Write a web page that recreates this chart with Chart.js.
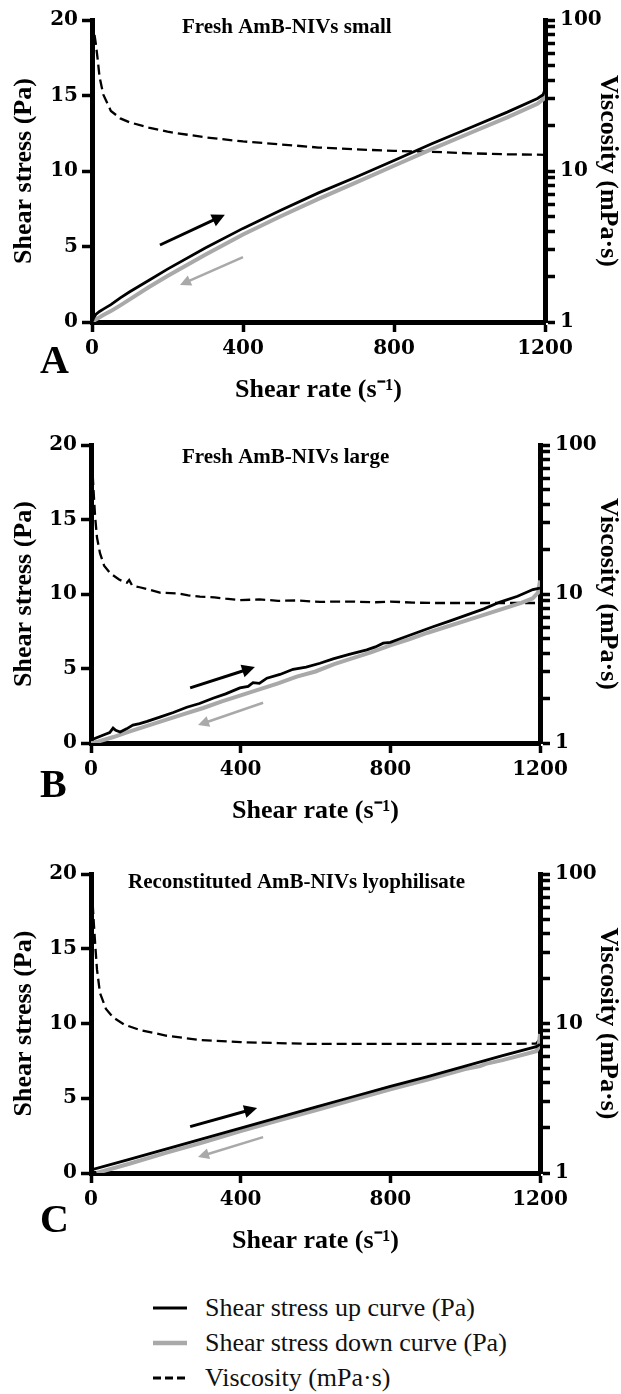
<!DOCTYPE html>
<html>
<head>
<meta charset="utf-8">
<script src="https://cdn.jsdelivr.net/npm/chart.js@4.4.1/dist/chart.umd.min.js"></script>
<style>
  body { margin: 0; background: #fff; width: 621px; height: 1394px; position: relative; overflow: hidden; }
  canvas.panel { position: absolute; left: 0; }
  #legend { position: absolute; left: 153px; top: 1290px; font-family: "Liberation Serif", serif; font-size: 26px; color: #111; }
  #legend .row { display: flex; align-items: center; height: 35px; }
  #legend svg { width: 34px; height: 10px; margin-right: 18px; }
</style>
</head>
<body>
<canvas id="chartA" class="panel" width="621" height="420" style="top:0px"></canvas>
<canvas id="chartB" class="panel" width="621" height="421" style="top:420px"></canvas>
<canvas id="chartC" class="panel" width="621" height="421" style="top:850px"></canvas>
<div id="legend"></div>
<script>
// ---- data ----
const STRESS_TICKS = [0, 5, 10, 15, 20];
const RATE_TICKS = [0, 400, 800, 1200];
const VISC_TICKS = [1, 2, 3, 4, 5, 6, 7, 8, 9, 10, 20, 30, 40, 50, 60, 70, 80, 90, 100];
const VISC_LABELS = [1, 10, 100];

// A: fresh, small
const RATE_A = [0, 5, 10, 20, 30, 50, 75, 100, 150, 200, 300, 400, 500, 600, 700, 800, 900, 1000, 1100, 1180, 1195, 1200];
const UP_A = [0, 0.3, 0.5, 0.7, 0.85, 1.15, 1.6, 2.0, 2.75, 3.5, 4.9, 6.2, 7.4, 8.55, 9.6, 10.7, 11.8, 12.85, 13.9, 14.8, 15.05, 15.4];
const DOWN_A = [0, 0.08, 0.17, 0.32, 0.46, 0.72, 1.1, 1.5, 2.3, 3.05, 4.45, 5.8, 7.0, 8.15, 9.25, 10.35, 11.45, 12.5, 13.55, 14.45, 14.75, 15.2];
const VISC_RATE_A = [2, 5, 10, 15, 20, 30, 50, 75, 100, 150, 200, 300, 400, 500, 600, 700, 800, 900, 1000, 1100, 1200];
const VISC_A = [100, 85, 70, 55, 42, 32, 25, 22.3, 21, 19.4, 18.2, 16.7, 15.7, 15.0, 14.3, 13.9, 13.6, 13.4, 13.1, 12.9, 12.8];

// B: fresh, large
const RATE_B_UP = [0, 10, 20, 30, 40, 50, 59, 66, 78, 95, 112, 130, 150, 184, 220, 256, 290, 326, 360, 398, 420, 433, 450, 470, 505, 540, 575, 612, 647, 690, 737, 760, 781, 800, 826, 870, 914, 960, 1005, 1050, 1093, 1140, 1181, 1200];
const UP_B = [0.2, 0.3, 0.4, 0.5, 0.6, 0.7, 1.0, 0.85, 0.74, 0.95, 1.2, 1.3, 1.45, 1.74, 2.05, 2.4, 2.65, 3.0, 3.3, 3.7, 3.8, 4.05, 4.0, 4.35, 4.6, 4.95, 5.1, 5.35, 5.65, 5.95, 6.25, 6.45, 6.7, 6.75, 7.0, 7.4, 7.8, 8.2, 8.6, 9.0, 9.46, 9.85, 10.3, 10.4];
const RATE_B_DOWN = [0, 20, 60, 100, 150, 200, 250, 300, 350, 400, 450, 500, 550, 600, 650, 700, 750, 800, 850, 900, 950, 1000, 1050, 1100, 1150, 1180, 1195, 1200];
const DOWN_B = [0, 0.1, 0.4, 0.75, 1.15, 1.55, 1.95, 2.35, 2.8, 3.2, 3.6, 4.0, 4.45, 4.8, 5.3, 5.7, 6.1, 6.55, 6.95, 7.4, 7.8, 8.2, 8.6, 9.0, 9.4, 9.7, 10.1, 10.9];
const VISC_RATE_B = [1, 3, 5, 8, 11, 16, 24, 35, 51, 75, 88, 96, 102, 110, 130, 150, 184, 230, 260, 291, 330, 360, 398, 450, 500, 550, 612, 660, 700, 760, 800, 860, 914, 1000, 1100, 1200];
const VISC_B = [100, 78, 60, 44, 33, 24, 18.8, 15.5, 13.8, 12.5, 12.1, 11.9, 12.4, 11.4, 11.1, 10.8, 10.2, 10.1, 9.8, 9.6, 9.5, 9.3, 9.1, 9.2, 9.0, 9.05, 8.85, 8.9, 8.9, 8.8, 8.9, 8.75, 8.7, 8.7, 8.7, 8.7];

// C: reconstituted lyophilisate
const RATE_C_UP = [0, 100, 200, 300, 400, 500, 600, 700, 800, 900, 1000, 1100, 1190, 1200];
const UP_C = [0.2, 0.9, 1.6, 2.3, 3.0, 3.7, 4.4, 5.1, 5.8, 6.45, 7.15, 7.85, 8.45, 8.6];
const RATE_C_DOWN = [15, 100, 200, 300, 400, 500, 600, 700, 800, 900, 1000, 1040, 1055, 1100, 1190, 1196, 1200];
const DOWN_C = [0, 0.6, 1.35, 2.05, 2.8, 3.5, 4.2, 4.9, 5.6, 6.25, 6.95, 7.15, 7.3, 7.55, 8.15, 8.4, 9.3];
const VISC_RATE_C = [1, 3, 5, 8, 11, 16, 24, 40, 59, 90, 131, 200, 291, 400, 500, 585, 700, 800, 900, 1000, 1100, 1190, 1200];
const VISC_C = [100, 75, 60, 45, 34.5, 23, 16, 12.5, 11.0, 9.8, 9.05, 8.3, 7.76, 7.5, 7.4, 7.3, 7.3, 7.3, 7.3, 7.3, 7.3, 7.35, 7.9];

// direction arrows, in data units: [fromRate, fromStress, toRate, toStress]
const ARROW_UP_A = [180, 5.1, 352, 7.1];
const ARROW_DOWN_A = [400, 4.3, 233, 2.45];
const ARROW_UP_B = [265, 3.7, 438, 5.1];
const ARROW_DOWN_B = [460, 2.7, 286, 1.2];
const ARROW_UP_C = [265, 3.1, 444, 4.35];
const ARROW_DOWN_C = [460, 2.4, 286, 1.07];

const BLACK = '#000';
const GREY = '#a9a9a9';
const AXIS_FONT = { family: 'Liberation Serif', size: 26, weight: 'bold', lineHeight: 1 };
const TICK_FONT = { family: 'DejaVu Serif', size: 20, weight: 'bold' };

const pts = (xs, ys) => xs.map((x, i) => ({ x: x, y: ys[i] }));

function drawArrow(ctx, x0, y0, x1, y1, color, width, head) {
  const ang = Math.atan2(y1 - y0, x1 - x0);
  ctx.strokeStyle = color;
  ctx.fillStyle = color;
  ctx.lineWidth = width;
  ctx.beginPath();
  ctx.moveTo(x0, y0);
  ctx.lineTo(x1 - Math.cos(ang) * head * 0.8, y1 - Math.sin(ang) * head * 0.8);
  ctx.stroke();
  ctx.beginPath();
  ctx.moveTo(x1, y1);
  ctx.lineTo(x1 - head * Math.cos(ang) + head * 0.5 * Math.sin(ang), y1 - head * Math.sin(ang) - head * 0.5 * Math.cos(ang));
  ctx.lineTo(x1 - head * Math.cos(ang) - head * 0.5 * Math.sin(ang), y1 - head * Math.sin(ang) + head * 0.5 * Math.cos(ang));
  ctx.closePath();
  ctx.fill();
}

const annotate = {
  id: 'annotate',
  afterDatasetsDraw(chart, args, opts) {
    const { ctx, scales: { x, y } } = chart;
    ctx.save();
    const a = opts.up, d = opts.down;
    drawArrow(ctx, x.getPixelForValue(a[0]), y.getPixelForValue(a[1]), x.getPixelForValue(a[2]), y.getPixelForValue(a[3]), BLACK, 3, 13);
    drawArrow(ctx, x.getPixelForValue(d[0]), y.getPixelForValue(d[1]), x.getPixelForValue(d[2]), y.getPixelForValue(d[3]), GREY, 2.5, 11);
    ctx.fillStyle = BLACK;
    ctx.textBaseline = 'alphabetic';
    ctx.textAlign = 'left';
    ctx.font = 'bold 21px "Liberation Serif"';
    ctx.fillText(opts.title, opts.titleX, opts.titleY);
    ctx.font = 'bold 40px "Liberation Serif"';
    ctx.fillText(opts.letter, opts.letterX, opts.letterY);
    ctx.restore();
  }
};

function makePanel(id, p) {
  new Chart(document.getElementById(id), {
    type: 'line',
    data: {
      datasets: [
        { label: 'Shear stress up curve (Pa)', data: pts(p.upX, p.up), borderColor: BLACK, borderWidth: 2.8, yAxisID: 'y', order: 1 },
        { label: 'Shear stress down curve (Pa)', data: pts(p.downX, p.down), borderColor: GREY, borderWidth: 4, yAxisID: 'y', order: 2 },
        { label: 'Viscosity (mPa·s)', data: pts(p.viscX, p.visc), borderColor: BLACK, borderWidth: 2.3, borderDash: [10, 5], yAxisID: 'y2', order: 3 }
      ]
    },
    options: {
      responsive: false,
      animation: false,
      layout: { padding: { top: p.top, left: 0, right: 0, bottom: 0 } },
      elements: { point: { radius: 0 }, line: { tension: 0, fill: false } },
      plugins: {
        legend: { display: false },
        tooltip: { enabled: false },
        annotate: { up: p.arrowUp, down: p.arrowDown, title: p.title, titleX: p.titleX, titleY: p.titleY, letter: p.letter, letterX: 40, letterY: p.letterY }
      },
      scales: {
        x: {
          type: 'linear', min: 0, max: 1200,
          afterBuildTicks: s => { s.ticks = RATE_TICKS.map(v => ({ value: v })); },
          afterFit: s => { s.height = 98; },
          grid: { display: true, drawOnChartArea: false, drawTicks: true, tickLength: 10, tickWidth: 3.5, tickColor: BLACK },
          border: { display: true, width: 5, color: BLACK },
          ticks: { color: BLACK, font: TICK_FONT, padding: 5, maxRotation: 0, autoSkip: false, callback: v => String(v) },
          title: { display: true, text: 'Shear rate (s⁻¹)', color: BLACK, font: AXIS_FONT, padding: { top: 0, bottom: 17 } }
        },
        y: {
          type: 'linear', position: 'left', min: 0, max: 20,
          afterBuildTicks: s => { s.ticks = STRESS_TICKS.map(v => ({ value: v })); },
          afterFit: s => { s.width = p.left; },
          grid: { display: true, drawOnChartArea: false, drawTicks: true, tickLength: 10, tickWidth: 3.5, tickColor: BLACK },
          border: { display: true, width: 5, color: BLACK },
          ticks: { color: BLACK, font: TICK_FONT, padding: 4, autoSkip: false, callback: v => String(v) },
          title: { display: true, text: 'Shear stress (Pa)', color: BLACK, font: AXIS_FONT, padding: { top: 11, bottom: 0 } }
        },
        y2: {
          type: 'logarithmic', position: 'right', min: 1, max: 100,
          afterBuildTicks: s => { s.ticks = VISC_TICKS.map(v => ({ value: v, major: VISC_LABELS.includes(v) })); },
          afterFit: s => { s.width = p.right; },
          grid: { display: true, drawOnChartArea: false, drawTicks: true, tickLength: 10, tickWidth: 3.5, tickColor: BLACK },
          border: { display: true, width: 5, color: BLACK },
          ticks: { color: BLACK, font: TICK_FONT, padding: 5, autoSkip: false,
            callback: v => VISC_LABELS.includes(v) ? String(v) : '' },
          title: { display: true, text: 'Viscosity (mPa·s)', color: BLACK, font: AXIS_FONT, padding: { top: 0, bottom: 0 } }
        }
      }
    },
    plugins: [annotate]
  });
}

makePanel('chartA', {
  top: 20, left: 92, right: 76,
  upX: RATE_A, up: UP_A, downX: RATE_A, down: DOWN_A, viscX: VISC_RATE_A, visc: VISC_A,
  arrowUp: ARROW_UP_A, arrowDown: ARROW_DOWN_A,
  title: 'Fresh AmB-NIVs small', titleX: 182, titleY: 33, letter: 'A', letterY: 373
});
makePanel('chartB', {
  top: 25, left: 91, right: 81,
  upX: RATE_B_UP, up: UP_B, downX: RATE_B_DOWN, down: DOWN_B, viscX: VISC_RATE_B, visc: VISC_B,
  arrowUp: ARROW_UP_B, arrowDown: ARROW_DOWN_B,
  title: 'Fresh AmB-NIVs large', titleX: 182, titleY: 43, letter: 'B', letterY: 377
});
makePanel('chartC', {
  top: 24, left: 91, right: 81,
  upX: RATE_C_UP, up: UP_C, downX: RATE_C_DOWN, down: DOWN_C, viscX: VISC_RATE_C, visc: VISC_C,
  arrowUp: ARROW_UP_C, arrowDown: ARROW_DOWN_C,
  title: 'Reconstituted AmB-NIVs lyophilisate', titleX: 128, titleY: 38, letter: 'C', letterY: 382
});

// legend below the panels
const LEGEND = [
  { text: 'Shear stress up curve (Pa)', color: BLACK, width: 3, dash: '' },
  { text: 'Shear stress down curve (Pa)', color: GREY, width: 4.5, dash: '' },
  { text: 'Viscosity (mPa·s)', color: BLACK, width: 3, dash: '8 4' }
];
document.getElementById('legend').innerHTML = LEGEND.map(l =>
  '<div class="row"><svg viewBox="0 0 34 10"><line x1="0" y1="5" x2="34" y2="5" stroke="' + l.color +
  '" stroke-width="' + l.width + '" stroke-dasharray="' + l.dash + '"/></svg><span>' + l.text + '</span></div>'
).join('');
</script>
</body>
</html>
